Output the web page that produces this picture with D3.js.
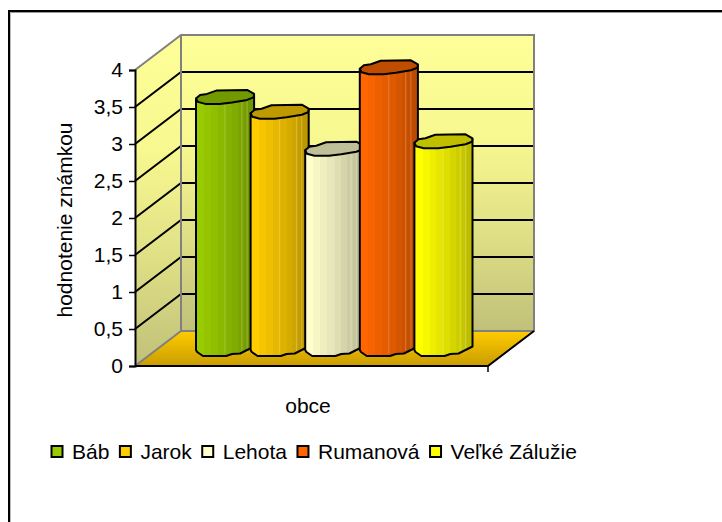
<!DOCTYPE html>
<html>
<head>
<meta charset="utf-8">
<script src="https://cdn.jsdelivr.net/npm/d3@7"></script>
<style>
    body { margin: 0; background: #fff; }
    svg { display: block; }
    text { font-family: "Liberation Sans", Arial, sans-serif; font-size: 21px; fill: #000; }
</style>
</head>
<body>
<svg id="vis" width="722" height="522"></svg>
<script>
// chart values
const categories = ["Báb", "Jarok", "Lehota", "Rumanová", "Veľké Zálužie"];
const values = [3.4, 3.2, 2.7, 3.8, 2.8];
const yTicks = [0, 0.5, 1, 1.5, 2, 2.5, 3, 3.5, 4];
const yTitle = "hodnotenie známkou";
const xTitle = "obce";
const barColors = ["#99cc00", "#ffcc00", "#ffffcc", "#ff6600", "#ffff00"];

const svg = d3.select("#vis");
const defs = svg.append("defs");

// 3d box of the plot
const depthX = 46, depthY = 35;
const left = 135, right = 488;
const y = d3.scaleLinear().domain([0, 4]).range([366, 70]);
const x = d3.scaleBand().domain(categories).range([196, 469]);
const barWidth = x.bandwidth() + 3.5;
const barLift = 16;

function linGrad(id, stops, x1, x2) {
    const g = defs.append("linearGradient").attr("id", id)
        .attr("x1", x1 || 0).attr("x2", x2 || 0)
        .attr("y1", 0).attr("y2", x2 ? 0 : 1);
    stops.forEach(function (s) {
        g.append("stop").attr("offset", s[0]).attr("stop-color", s[1]);
    });
}
linGrad("wall", [[0, "#ffff99"], [0.35, "#f8f890"], [0.7, "#dddd85"], [1, "#c0c07a"]]);
linGrad("floor", [[0, "#ffcc00"], [1, "#c99c00"]]);

const poly = d3.line();

// outer frame, only top and left are visible
svg.append("line").attr("x1", 9).attr("x2", 722).attr("y1", 11).attr("y2", 11)
    .attr("stroke", "#000").attr("stroke-width", 2);
svg.append("line").attr("x1", 9).attr("x2", 9).attr("y1", 10).attr("y2", 522)
    .attr("stroke", "#000").attr("stroke-width", 2);
svg.append("line").attr("x1", 10.5).attr("x2", 10.5).attr("y1", 12).attr("y2", 522)
    .attr("stroke", "#bbb").attr("stroke-width", 1);
svg.append("line").attr("x1", 11).attr("x2", 722).attr("y1", 12.5).attr("y2", 12.5)
    .attr("stroke", "#999").attr("stroke-width", 1);

// walls and floor
const y0 = y(0), y4 = y(4);
svg.append("path")
    .attr("d", poly([[left, y4], [left + depthX, y4 - depthY], [left + depthX, y0 - depthY], [left, y0]]) + "Z")
    .attr("fill", "url(#wall)");
svg.append("path")
    .attr("d", poly([[left + depthX, y4 - depthY], [right + depthX, y4 - depthY], [right + depthX, y0 - depthY], [left + depthX, y0 - depthY]]) + "Z")
    .attr("fill", "url(#wall)");
svg.append("path")
    .attr("d", poly([[left, y0], [left + depthX, y0 - depthY], [right + depthX, y0 - depthY], [right, y0]]) + "Z")
    .attr("fill", "url(#floor)");

// gridlines
yTicks.filter(function (d) { return d > 0 && d < 4; }).forEach(function (d) {
    svg.append("path")
        .attr("d", poly([[left, y(d)], [left + depthX, y(d) - depthY], [right + depthX, y(d) - depthY]]))
        .attr("fill", "none").attr("stroke", "#000").attr("stroke-width", 2);
});

// gray edges of the box
svg.append("path")
    .attr("d", poly([[left, y4], [left + depthX, y4 - depthY], [right + depthX, y4 - depthY], [right + depthX, y0 - depthY], [left + depthX, y0 - depthY], [left, y0]]))
    .attr("fill", "none").attr("stroke", "#808080").attr("stroke-width", 2);
svg.append("line")
    .attr("x1", left + depthX).attr("x2", left + depthX).attr("y1", y4 - depthY).attr("y2", y0 - depthY)
    .attr("stroke", "#808080").attr("stroke-width", 2);

// floor front edges
svg.append("path")
    .attr("d", poly([[left, y0], [right, y0], [right + depthX, y0 - depthY]]))
    .attr("fill", "none").attr("stroke", "#000").attr("stroke-width", 2);
svg.append("line").attr("x1", right).attr("x2", right).attr("y1", y0).attr("y2", y0 + 6)
    .attr("stroke", "#000").attr("stroke-width", 1.5);

// y axis
const yAxis = d3.axisLeft(y).tickValues(yTicks).tickSize(6).tickPadding(6)
    .tickFormat(function (d) { return String(d).replace(".", ","); });
const axisG = svg.append("g").attr("transform", "translate(" + left + ",0)").call(yAxis);
axisG.select(".domain").attr("stroke", "#000").attr("stroke-width", 2);
axisG.selectAll(".tick line").attr("stroke", "#000").attr("stroke-width", 1.5);
axisG.selectAll("text").style("font-size", "21px").style("font-family", '"Liberation Sans", Arial, sans-serif');

// bars: irregular cylinder outline, offsets relative to the bar's left edge
const capShape = [[0, 0], [0.07, -3.5], [0.19, -4.5], [0.36, -8], [0.88, -8.5], [1, -4.5], [0.99, -1], [0.88, 1.5], [0.62, 4], [0.41, 5.5], [0.16, 5.5], [0.03, 3.5]];
const footShape = [[0, 0], [0.02, 2], [0.12, 6], [0.52, 6], [0.62, 4], [0.76, 3.5], [1, -3.5]];
const stripeStops = [0, 0.14, 0.26, 0.38, 0.5, 0.62, 0.72, 0.82, 0.9];
const highlight = [0.5, 0.79, 0.88];

categories.forEach(function (name, i) {
    const base = d3.color(barColors[i]);
    const dark = base.darker(0.85);
    const shade = d3.interpolateRgb(base, dark);
    const stops = [];
    stripeStops.forEach(function (s, k) {
        const next = k + 1 < stripeStops.length ? stripeStops[k + 1] : 1;
        const c = shade(k / (stripeStops.length - 1));
        stops.push([s, c]);
        stops.push([next, c]);
    });
    linGrad("bar" + i, stops, 0, 1);

    const bx = x(name);
    const top = y(values[i]) - barLift;
    const bottom = y(0) - barLift;
    const capColor = d3.rgb(base.r * 0.75, base.g * 0.75, base.b * 0.75).formatHex();

    const footPts = footShape.map(function (p) { return [bx + p[0] * barWidth, bottom + p[1]]; });
    const body = [[bx, top]].concat(footPts, [[bx + barWidth, top - 3.5]]);
    const g = svg.append("g").attr("class", "bar");
    g.append("path").attr("d", poly(body) + "Z")
        .attr("fill", "url(#bar" + i + ")")
        .attr("stroke", "none");
    g.selectAll(".shine").data(highlight).enter().append("line")
        .attr("class", "shine")
        .attr("x1", function (d) { return bx + d * barWidth; })
        .attr("x2", function (d) { return bx + d * barWidth; })
        .attr("y1", top).attr("y2", bottom + 3)
        .attr("stroke", "#fff").attr("stroke-opacity", 0.22);
    g.append("path").attr("d", poly(body) + "Z")
        .attr("fill", "none")
        .attr("stroke", "#000").attr("stroke-width", 2).attr("stroke-linejoin", "round");
    g.append("path")
        .attr("d", poly(capShape.map(function (p) { return [bx + p[0] * barWidth, top + p[1]]; })) + "Z")
        .attr("fill", capColor)
        .attr("stroke", "#000").attr("stroke-width", 2).attr("stroke-linejoin", "round");
});

// titles
svg.append("text").attr("x", 308).attr("y", 413).attr("text-anchor", "middle").text(xTitle);
svg.append("text").attr("transform", "translate(72,220) rotate(-90)").attr("text-anchor", "middle").text(yTitle);

// legend
let lx = 51;
categories.forEach(function (name, i) {
    svg.append("rect").attr("x", lx + 0.5).attr("y", 446).attr("width", 11).attr("height", 11)
        .attr("fill", barColors[i]).attr("stroke", "#000").attr("stroke-width", 2);
    const t = svg.append("text").attr("x", lx + 21).attr("y", 459).text(name);
    lx += 21 + t.node().getComputedTextLength() + 10;
});
</script>
</body>
</html>
